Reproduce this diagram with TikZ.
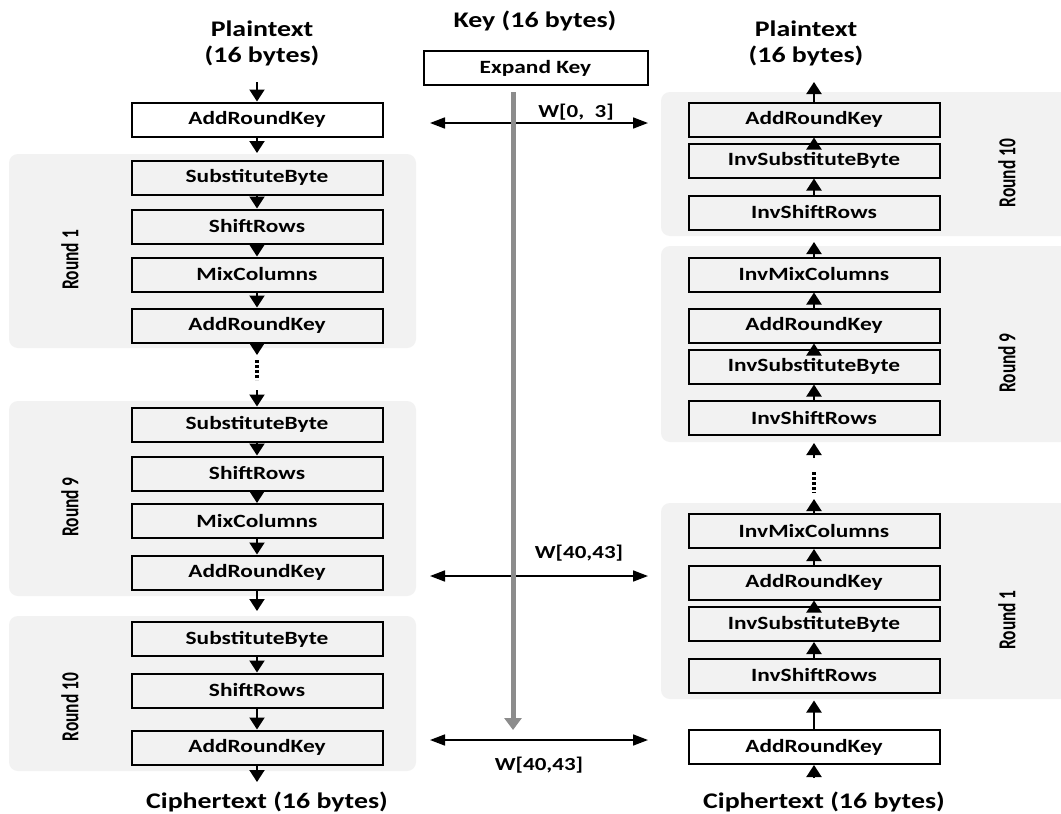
\documentclass[tikz,border=0pt]{standalone}
\usepackage{fontspec}
\usepackage{graphicx}
\setmainfont{Carlito}[FakeStretch=1.25]
\newfontfamily\plainf{Carlito}
\usetikzlibrary{arrows.meta}
\definecolor{bgc}{HTML}{F2F2F2}
\definecolor{keyg}{HTML}{8C8C8C}
\newcommand\rlab[1]{\scalebox{1}[1.4]{\plainf\fontsize{17.4}{18}\selectfont\bfseries #1}}
\begin{document}
\begin{tikzpicture}[x=1pt,y=-1pt,
  stagebox/.style={draw,line width=2pt,minimum width=251pt,minimum height=34pt,inner sep=0pt,fill=white,font=\fontsize{18.7}{20}\selectfont\bfseries},
  inbox/.style={stagebox,fill=bgc},
  bigtxt/.style={font=\fontsize{22.3}{26}\selectfont\bfseries,align=center,inner sep=0pt},
  wtxt/.style={font=\fontsize{18.4}{20}\selectfont\bfseries,inner sep=0pt},
  roundbg/.style={fill=bgc,rounded corners=9pt},
  roundlbl/.style={rotate=90,inner sep=0pt},
  flow/.style={line width=2pt,-{Triangle[length=12pt,width=15pt]}},
  wflow/.style={line width=1.7pt,{Triangle[length=15pt,width=11pt]}-{Triangle[length=15pt,width=11pt]}},
  keyflow/.style={line width=5pt,draw=keyg,-{Triangle[length=12pt,width=17pt]}},
  dotline/.style={line width=3.5pt,dash pattern=on 3pt off 2pt}
]
\useasboundingbox (0,0) rectangle (1061,814);
\fill[white] (0,0) rectangle (1061,814);

% round backgrounds
\fill[roundbg] (9,154) rectangle (416,348);
\fill[roundbg] (9,401) rectangle (416,596);
\fill[roundbg] (9,616) rectangle (416,771);
\fill[roundbg] (661,92) rectangle (1080,236);
\fill[roundbg] (661,246) rectangle (1080,442);
\fill[roundbg] (661,503) rectangle (1080,699);

% round labels
\node[roundlbl] (lr1) at (70,260) {\rlab{Round 1}};
\node[roundlbl] (lr9) at (70,507) {\rlab{Round 9}};
\node[roundlbl] (lr10) at (70,707) {\rlab{Round 10}};
\node[roundlbl] (rr10) at (1007,173) {\rlab{Round 10}};
\node[roundlbl] (rr9) at (1007,363) {\rlab{Round 9}};
\node[roundlbl] (rr1) at (1007,620) {\rlab{Round 1}};

% texts
\node[bigtxt] (ptL) at (262,43) {Plaintext\\(16 bytes)};
\node[bigtxt] (ptR) at (806,43) {Plaintext\\(16 bytes)};
\node[bigtxt] (key) at (535,21) {Key (16 bytes)};
\node[bigtxt] (ctL) at (267,802) {Ciphertext (16 bytes)};
\node[bigtxt] (ctR) at (824,802) {Ciphertext (16 bytes)};

% expand key
\node[stagebox,minimum width=224pt] (exp) at (535.5,68) {Expand Key};

% left column
\node[stagebox] (ark0) at (257,119.5) {AddRoundKey};
\node[inbox] (sb1) at (257,177.5) {SubstituteByte};
\node[inbox] (sr1) at (257,226.5) {ShiftRows};
\node[inbox] (mc1) at (257,274.5) {MixColumns};
\node[inbox] (ark1) at (257,325.5) {AddRoundKey};
\node[inbox] (sb9) at (257,424.5) {SubstituteByte};
\node[inbox] (sr9) at (257,473.5) {ShiftRows};
\node[inbox] (mc9) at (257,521) {MixColumns};
\node[inbox] (ark9) at (257,572.5) {AddRoundKey};
\node[inbox] (sb10) at (257,639) {SubstituteByte};
\node[inbox] (sr10) at (257,690.5) {ShiftRows};
\node[inbox] (ark10) at (257,747.5) {AddRoundKey};

% right column
\node[inbox] (rark10) at (814,119.5) {AddRoundKey};
\node[inbox] (risb10) at (814,160.5) {InvSubstituteByte};
\node[inbox] (risr10) at (814,212.5) {InvShiftRows};
\node[inbox] (rimc9) at (814,274.5) {InvMixColumns};
\node[inbox] (rark9) at (814,325.5) {AddRoundKey};
\node[inbox] (risb9) at (814,366.5) {InvSubstituteByte};
\node[inbox] (risr9) at (814,418) {InvShiftRows};
\node[inbox] (rimc1) at (814,531) {InvMixColumns};
\node[inbox] (rark1) at (814,582.5) {AddRoundKey};
\node[inbox] (risb1) at (814,624) {InvSubstituteByte};
\node[inbox] (risr1) at (814,675.5) {InvShiftRows};
\node[stagebox] (rark0) at (814,747) {AddRoundKey};

% W labels
\node[wtxt] (w0) at (576,112) {W[0,\ \ 3]};
\node[wtxt] (w1) at (579,553) {W[40,43]};
\node[wtxt] (w2) at (539,765) {W[40,43]};

% coordinates
\coordinate (la) at (257,82);
\coordinate (lb) at (257,153);
\coordinate (lc) at (257,355);
\coordinate (ld1) at (257,360);
\coordinate (ld2) at (257,380);
\coordinate (le) at (257,390);
\coordinate (lf) at (257,611);
\coordinate (lg) at (257,782);
\coordinate (ra) at (814,82);
\coordinate (rb) at (814,242);
\coordinate (rc1) at (814,458);
\coordinate (rc2) at (814,443);
\coordinate (rd1) at (814,472);
\coordinate (rd2) at (814,493);
\coordinate (re) at (814,499);
\coordinate (rf) at (814,778);
\coordinate (kt) at (513,92);
\coordinate (kb) at (513,730);
\coordinate (wa1) at (430,123);
\coordinate (wb1) at (648,123);
\coordinate (wa2) at (430,576);
\coordinate (wb2) at (648,576);
\coordinate (wa3) at (430,740);
\coordinate (wb3) at (648,740);

% left arrows
\draw[flow] (la) -- (ark0.north);
\draw[flow] (ark0.south) -- (lb);
\draw[flow] (sb1.south) -- (sr1.north);
\draw[flow] (sr1.south) -- (mc1.north);
\draw[flow] (mc1.south) -- (ark1.north);
\draw[flow] (ark1.south) -- (lc);
\draw[dotline] (ld1) -- (ld2);
\draw[flow] (le) -- (sb9.north);
\draw[flow] (sb9.south) -- (sr9.north);
\draw[flow] (sr9.south) -- (mc9.north);
\draw[flow] (mc9.south) -- (ark9.north);
\draw[flow] (ark9.south) -- (lf);
\draw[flow] (sb10.south) -- (sr10.north);
\draw[flow] (sr10.south) -- (ark10.north);
\draw[flow] (ark10.south) -- (lg);

% right arrows
\draw[flow] (rark10.north) -- (ra);
\draw[flow] (risb10.north) -- (rark10.south);
\draw[flow] (risr10.north) -- (risb10.south);
\draw[flow] (rimc9.north) -- (rb);
\draw[flow] (rark9.north) -- (rimc9.south);
\draw[flow] (risb9.north) -- (rark9.south);
\draw[flow] (risr9.north) -- (risb9.south);
\draw[flow] (rc1) -- (rc2);
\draw[dotline] (rd1) -- (rd2);
\draw[flow] (rimc1.north) -- (re);
\draw[flow] (rark1.north) -- (rimc1.south);
\draw[flow] (risb1.north) -- (rark1.south);
\draw[flow] (risr1.north) -- (risb1.south);
\draw[flow,shorten >=7pt] (rark0.north) -- (risr1.south);
\draw[flow] (rf) -- (rark0.south);

% key arrows
\draw[wflow] (wa1) -- (wb1);
\draw[wflow] (wa2) -- (wb2);
\draw[wflow] (wa3) -- (wb3);
\draw[keyflow] (kt) -- (kb);
\end{tikzpicture}
\end{document}
